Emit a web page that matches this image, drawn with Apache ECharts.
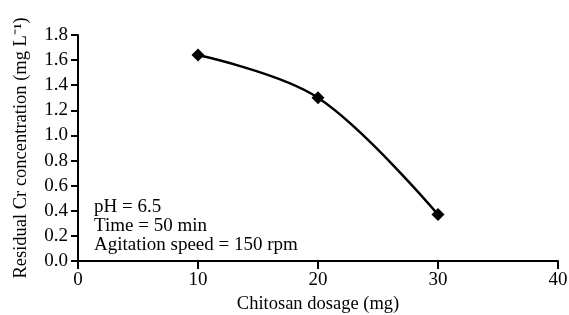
<!DOCTYPE html>
<html><head><meta charset="utf-8">
<script src="https://cdn.jsdelivr.net/npm/echarts@6/dist/echarts.min.js"></script>
<style>html,body{margin:0;padding:0;background:#fff}#c{width:569px;height:315px}</style>
</head><body><div id="c"></div>
<script>
const dosage = [10, 20, 30];
const residualCr = [1.64, 1.30, 0.37];
const xTicks = [0, 10, 20, 30, 40];
const yTicks = [0.0, 0.2, 0.4, 0.6, 0.8, 1.0, 1.2, 1.4, 1.6, 1.8];
const notes = ['pH = 6.5', 'Time = 50 min', 'Agitation speed = 150 rpm'];
const font = 'Liberation Serif';

const chart = echarts.init(document.getElementById('c'));
chart.setOption({
  animation: false,
  backgroundColor: '#fff',
  grid: {left: 78, right: 11, top: 35, bottom: 54, outerBoundsMode: 'none', containLabel: false},
  xAxis: {
    type: 'value', min: xTicks[0], max: xTicks[xTicks.length-1], interval: 10,
    name: 'Chitosan dosage (mg)', nameLocation: 'middle', nameGap: 34,
    nameTextStyle: {fontFamily: font, fontSize: 18.5, color: '#000'},
    axisLine: {lineStyle: {color: '#000', width: 2}},
    axisTick: {show: true, length: 8, lineStyle: {color: '#000', width: 2}},
    axisLabel: {fontFamily: font, fontSize: 19, color: '#000', margin: 10},
    splitLine: {show: false}
  },
  yAxis: {
    type: 'value', min: yTicks[0], max: yTicks[yTicks.length-1], interval: 0.2,
    name: 'Residual Cr concentration (mg L\u207B\u00B9)', nameLocation: 'middle', nameGap: 47,
    nameTextStyle: {fontFamily: font, fontSize: 18.5, color: '#000'},
    axisLine: {show: true, lineStyle: {color: '#000', width: 2}},
    axisTick: {show: true, length: 7, lineStyle: {color: '#000', width: 2}},
    axisLabel: {fontFamily: font, fontSize: 19, color: '#000', margin: 10,
      formatter: v => v.toFixed(1)},
    splitLine: {show: false}
  },
  graphic: [{
    type: 'text', left: 94, top: 198,
    style: {text: notes.join('\n'), font: '19px "Liberation Serif"', fill: '#000', lineHeight: 19}
  }],
  series: [{
    type: 'line', data: dosage.map((d, i) => [d, residualCr[i]]),
    smooth: 0.35, symbol: 'diamond', symbolSize: 13,
    lineStyle: {color: '#000', width: 2.5},
    itemStyle: {color: '#000'}
  }]
});
</script></body></html>
